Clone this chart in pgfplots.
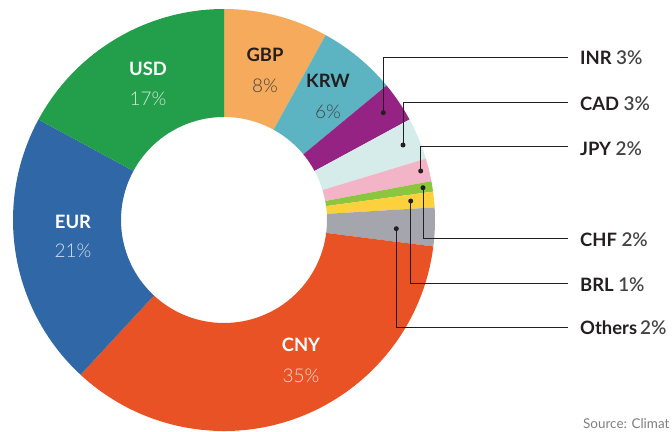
\documentclass[border=0pt]{standalone}
\usepackage{pgfplots}
\pgfplotsset{compat=1.18}
\usepackage{pgfplotstable}
\usepackage{fontspec}
\setmainfont{Lato}
\newfontfamily\lightfont{Lato Light}

\definecolor{cUSD}{HTML}{239E4A}
\definecolor{cGBP}{HTML}{F5AA5C}
\definecolor{cKRW}{HTML}{5CB4C2}
\definecolor{cINR}{HTML}{942383}
\definecolor{cCAD}{HTML}{D6ECEB}
\definecolor{cJPY}{HTML}{F3B4C7}
\definecolor{cCHF}{HTML}{8CC63F}
\definecolor{cBRL}{HTML}{FDD13D}
\definecolor{cOTH}{HTML}{A4A5AD}
\definecolor{cCNY}{HTML}{E85225}
\definecolor{cEUR}{HTML}{3067A6}
\definecolor{ink}{HTML}{231F20}
\definecolor{pct}{HTML}{444446}
\definecolor{src}{HTML}{7F7F7F}

% share of each slice, clockwise from 12 o'clock
\pgfplotstableread{
cur    share col
GBP    8.0   cGBP
KRW    6.0   cKRW
INR    3.1   cINR
CAD    3.2   cCAD
JPY    1.75  cJPY
CHF    0.8   cCHF
BRL    1.2   cBRL
Others 2.95  cOTH
CNY    34.9  cCNY
EUR    21.0  cEUR
USD    17.1  cUSD
}\shares

\newcommand\lab[1]{\fontsize{18.5}{20}\selectfont\bfseries #1}
\newcommand\per[1]{\fontsize{19}{20}\selectfont\lightfont #1}

\begin{document}
\begin{tikzpicture}
\begin{axis}[width=672bp, height=432bp, scale only axis, hide axis,
  xmin=0, xmax=672, ymin=0, ymax=432, y dir=reverse, clip=false]
\coordinate (SW) at (rel axis cs:0,0);
\coordinate (NE) at (rel axis cs:1,1);
\pgfplotsextra{
  \coordinate (O) at (axis cs:224,220);
  \pgfplotstablegetrowsof{\shares}
  \pgfmathtruncatemacro\nrows{\pgfplotsretval-1}
  \gdef\cum{0}
  \foreach \i in {0,...,\nrows}{
    \pgfplotstablegetelem{\i}{share}\of\shares \let\sh\pgfplotsretval
    \pgfplotstablegetelem{\i}{col}\of\shares \let\cl\pgfplotsretval
    \pgfmathsetmacro\aa{90-3.6*\cum}
    \pgfmathsetmacro\ab{90-3.6*(\cum+\sh)}
    \fill[fill=\cl] ([shift={(\aa:211bp)}]O) arc[start angle=\aa, end angle=\ab, radius=211bp]
      -- ([shift={(\ab:103bp)}]O) arc[start angle=\ab, end angle=\aa, radius=103bp] -- cycle;
    \pgfmathsetmacro\tmp{\cum+\sh}\xdef\cum{\tmp}
  }
}

% labels inside the ring
\node[anchor=base, white] at (axis cs:148,75.5) {\lab{USD}};
\node[anchor=base, white, text opacity=0.8] at (axis cs:148,106) {\per{17\%}};
\node[anchor=base, ink] at (axis cs:265,62) {\lab{GBP}};
\node[anchor=base, pct] at (axis cs:265,93) {\per{8\%}};
\node[anchor=base, ink] at (axis cs:328,88) {\lab{KRW}};
\node[anchor=base, pct] at (axis cs:328,119) {\per{6\%}};
\node[anchor=base, white] at (axis cs:73,228.3) {\lab{EUR}};
\node[anchor=base, white, text opacity=0.8] at (axis cs:73,257.3) {\per{21\%}};
\node[anchor=base, white] at (axis cs:301,351) {\lab{CNY}};
\node[anchor=base, white, text opacity=0.8] at (axis cs:301,382) {\per{35\%}};

% leader lines
\begin{scope}[ink, line width=1bp]
\draw (axis cs:383.3,112.7) -- (axis cs:383.3,57.5) -- (axis cs:568,57.5);
\draw (axis cs:403,145) -- (axis cs:403,103) -- (axis cs:568,103);
\draw (axis cs:420.7,171) -- (axis cs:420.7,146) -- (axis cs:568,146);
\draw (axis cs:423,187.7) -- (axis cs:423,238.3) -- (axis cs:568,238.3);
\draw (axis cs:410.7,201) -- (axis cs:410.7,283.3) -- (axis cs:568,283.3);
\draw (axis cs:396.3,228.7) -- (axis cs:396.3,327.5) -- (axis cs:568,327.5);
\fill (axis cs:383.3,112.7) circle[radius=2.5bp];
\fill (axis cs:403,145) circle[radius=2.5bp];
\fill (axis cs:420.7,171) circle[radius=2.5bp];
\fill (axis cs:423,187.7) circle[radius=2.5bp];
\fill (axis cs:410.7,201) circle[radius=2.5bp];
\fill (axis cs:396.3,228.7) circle[radius=2.5bp];
\end{scope}

% outer labels
\node[anchor=base west, inner sep=0pt] at (axis cs:580,64.3) {\lab{\color{ink}INR} \per{\color{pct}3\%}};
\node[anchor=base west, inner sep=0pt] at (axis cs:580,111) {\lab{\color{ink}CAD} \per{\color{pct}3\%}};
\node[anchor=base west, inner sep=0pt] at (axis cs:580,155) {\lab{\color{ink}JPY} \per{\color{pct}2\%}};
\node[anchor=base west, inner sep=0pt] at (axis cs:580,246.7) {\lab{\color{ink}CHF} \per{\color{pct}2\%}};
\node[anchor=base west, inner sep=0pt] at (axis cs:580,291) {\lab{\color{ink}BRL} \per{\color{pct}1\%}};
\node[anchor=base west, inner sep=0pt] at (axis cs:580,334.3) {\lab{\color{ink}Others}\,\per{\color{pct}2\%}};

\node[anchor=base west, inner sep=0pt, src] at (axis cs:583,428.5) {\fontsize{13.5}{15}\selectfont Source: Climat};
\end{axis}
\pgfresetboundingbox
\path[use as bounding box] (SW) rectangle (NE);
\end{tikzpicture}
\end{document}
